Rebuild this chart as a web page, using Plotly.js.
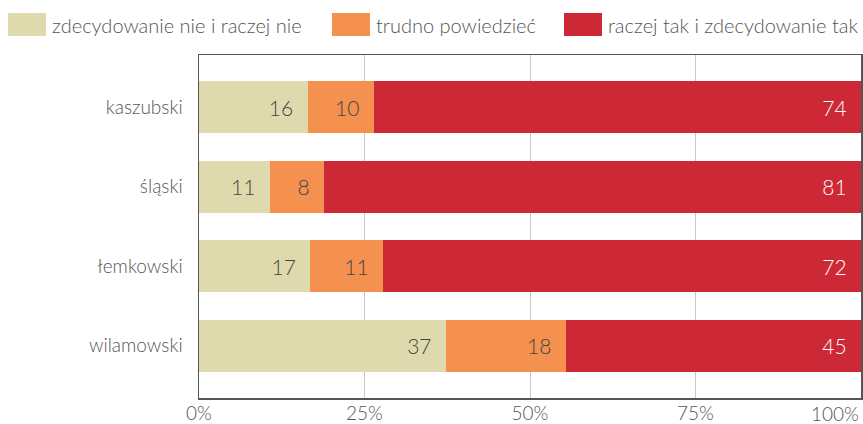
<!DOCTYPE html>
<html><head><meta charset="utf-8">
<script src="https://cdn.plot.ly/plotly-3.0.1.min.js"></script>
<style>html,body{margin:0;padding:0;background:#fff}#chart{width:863px;height:424px}</style>
</head><body><div id="chart"></div>
<script>
const categories = ['kaszubski', 'śląski', 'łemkowski', 'wilamowski'];
const seriesNames = ['zdecydowanie nie i raczej nie', 'trudno powiedzieć', 'raczej tak i zdecydowanie tak'];
const noValues = [16.4, 10.7, 16.8, 37.3];
const unsureValues = [10.0, 8.2, 11.0, 18.1];
const yesValues = [73.6, 81.1, 72.2, 44.6];
const colors = ['#dedaae', '#f5914f', '#cd2835'];
const textColors = ['#444444', '#444444', '#ffffff'];
const xTickVals = [0, 25, 50, 75, 100];
const xTickText = ['0%', '25%', '50%', '75%', '100%'];

const seriesValues = [noValues, unsureValues, yesValues];
const FONT = 'Lato, "Open Sans", sans-serif';
const W = 300;

const traces = seriesValues.map((vals, i) => ({
  type: 'bar', orientation: 'h', name: seriesNames[i],
  x: vals, y: categories,
  marker: {color: colors[i], line: {width: 0}},
  texttemplate: '%{x:.0f}\u00a0\u00a0', textposition: 'inside', insidetextanchor: 'end',
  textfont: {family: FONT, size: 21, weight: W, color: textColors[i]},
  constraintext: 'none', width: 0.656, showlegend: false, hoverinfo: 'none'
}));

// custom legend (large swatches)
const L = 199, R = 861, T = 55, B = 398;
const px = v => (v - L) / (R - L);
const py = v => (B - v) / (B - T);
const legendX = [8, 332, 564];
const shapes = [], annotations = [];
seriesNames.forEach((n, i) => {
  shapes.push({type: 'rect', xref: 'paper', yref: 'paper',
    x0: px(legendX[i]), x1: px(legendX[i] + 38), y0: py(36), y1: py(13),
    fillcolor: colors[i], line: {width: 0}});
  annotations.push({xref: 'paper', yref: 'paper', x: px(legendX[i] + 42), y: py(24.5),
    xanchor: 'left', yanchor: 'middle', text: n, showarrow: false,
    font: {family: FONT, size: 20, weight: W, color: '#555555'}});
});
// last x tick label, right-aligned inside the page
annotations.push({xref: 'x', yref: 'paper', x: xTickVals[4], y: 0, yshift: -2,
  xanchor: 'right', yanchor: 'top', text: xTickText[4], showarrow: false,
  font: {family: FONT, size: 19, weight: W, color: '#555555'}});

const layout = {
  width: 863, height: 424,
  margin: {l: L, r: 863 - R, t: T, b: 424 - B},
  paper_bgcolor: '#ffffff', plot_bgcolor: '#ffffff',
  barmode: 'stack', showlegend: false,
  font: {family: FONT, color: '#555555'},
  xaxis: {range: [0, 100], tickvals: xTickVals.slice(0, 4), ticktext: xTickText.slice(0, 4),
    showgrid: true, gridcolor: '#c8c8c8', gridwidth: 1, zeroline: false,
    showline: true, mirror: true, linecolor: '#555555', linewidth: 1.5,
    ticks: '', ticklabelstandoff: -2,
    tickfont: {family: FONT, size: 19, weight: W, color: '#555555'}, fixedrange: true},
  yaxis: {type: 'category', categoryorder: 'array', categoryarray: categories,
    range: [3.656, -0.656], showgrid: false, zeroline: false,
    showline: true, mirror: true, linecolor: '#555555', linewidth: 1.5,
    ticks: 'outside', ticklen: 11, tickcolor: 'rgba(0,0,0,0)',
    tickfont: {family: FONT, size: 19, weight: W, color: '#555555'}, fixedrange: true},
  shapes: shapes, annotations: annotations
};

Plotly.newPlot('chart', traces, layout, {displayModeBar: false, staticPlot: true});
</script></body></html>
